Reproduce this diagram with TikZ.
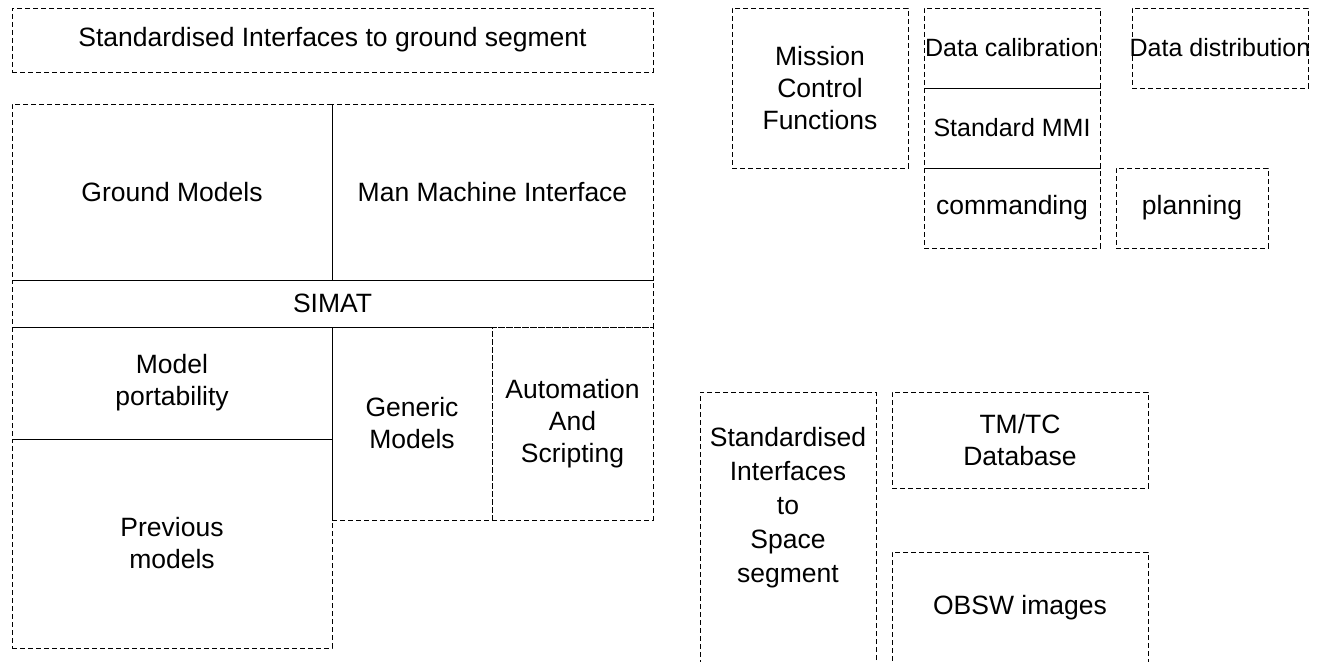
\documentclass[tikz,border=0pt]{standalone}
\usepackage{fontspec}
\setmainfont{Liberation Sans}
\usetikzlibrary{positioning}
\tikzstyle{block} = [rectangle, draw, dash pattern=on 5pt off 3pt, line width=0.9pt,
    inner sep=0pt, outer sep=0pt, align=center, font=\fontsize{26.5}{32}\selectfont]
\tikzstyle{narrow} = [font=\fontsize{25}{32}\selectfont]
\tikzstyle{label} = [align=center, font=\fontsize{26.5}{34}\selectfont]

\begin{document}
\begin{tikzpicture}[x=1pt, y=-1pt]
    \useasboundingbox (0,0) rectangle (1319,661);
    \clip (0,0) rectangle (1319,661);
    % Simulator side
    \node [block, anchor=north west, minimum width=641, minimum height=64] (groundif) at (12,8) {Standardised Interfaces to ground segment};
    \node [block, anchor=north west, minimum width=320, minimum height=176] (groundmodels) at (12,104) {Ground Models};
    \node [block, right=0pt of groundmodels, minimum width=321, minimum height=176] (mmi) {Man Machine Interface};
    \node [block, below=0pt of groundmodels.south west, anchor=north west, minimum width=641, minimum height=47] (simat) {SIMAT};
    \node [block, below=0pt of simat.south west, anchor=north west, minimum width=320, minimum height=112] (portability) {Model\\portability};
    \node [block, below=0pt of portability, minimum width=320, minimum height=209] (previous) {Previous\\models};
    \node [block, right=0pt of portability.north east, anchor=north west, minimum width=160, minimum height=193] (generic) {Generic\\Models};
    \node [block, right=0pt of generic, minimum width=161, minimum height=193] (scripting) {Automation\\And\\Scripting};
    % Mission control side
    \node [block, anchor=north west, minimum width=176, minimum height=160] (mission) at (732,8) {Mission\\Control\\Functions};
    \node [block, narrow, anchor=north west, minimum width=176, minimum height=80] (calibration) at (924,8) {\makebox[0pt]{Data calibration}};
    \node [block, narrow, below=0pt of calibration, minimum width=176, minimum height=80] (stdmmi) {\makebox[0pt]{Standard MMI}};
    \node [block, below=0pt of stdmmi, minimum width=176, minimum height=80] (commanding) {commanding};
    \node [block, narrow, anchor=north west, minimum width=176, minimum height=80] (distribution) at (1132,8) {\makebox[0pt]{Data distribution}};
    \node [block, anchor=north west, minimum width=152, minimum height=80] (planning) at (1116,168) {planning};
    % Space segment side
    \node [block, anchor=north west, minimum width=176, minimum height=300] (spaceif) at (700,392) {};
    \node [label] (spaceiftext) at (788,508) {Standardised\\Interfaces\\to\\Space\\segment};
    \node [block, anchor=north west, minimum width=256, minimum height=96] (tmtc) at (892,392) {TM/TC\\Database};
    \node [block, anchor=north west, minimum width=256, minimum height=112] (obsw) at (892,552) {OBSW images};
\end{tikzpicture}
\end{document}
